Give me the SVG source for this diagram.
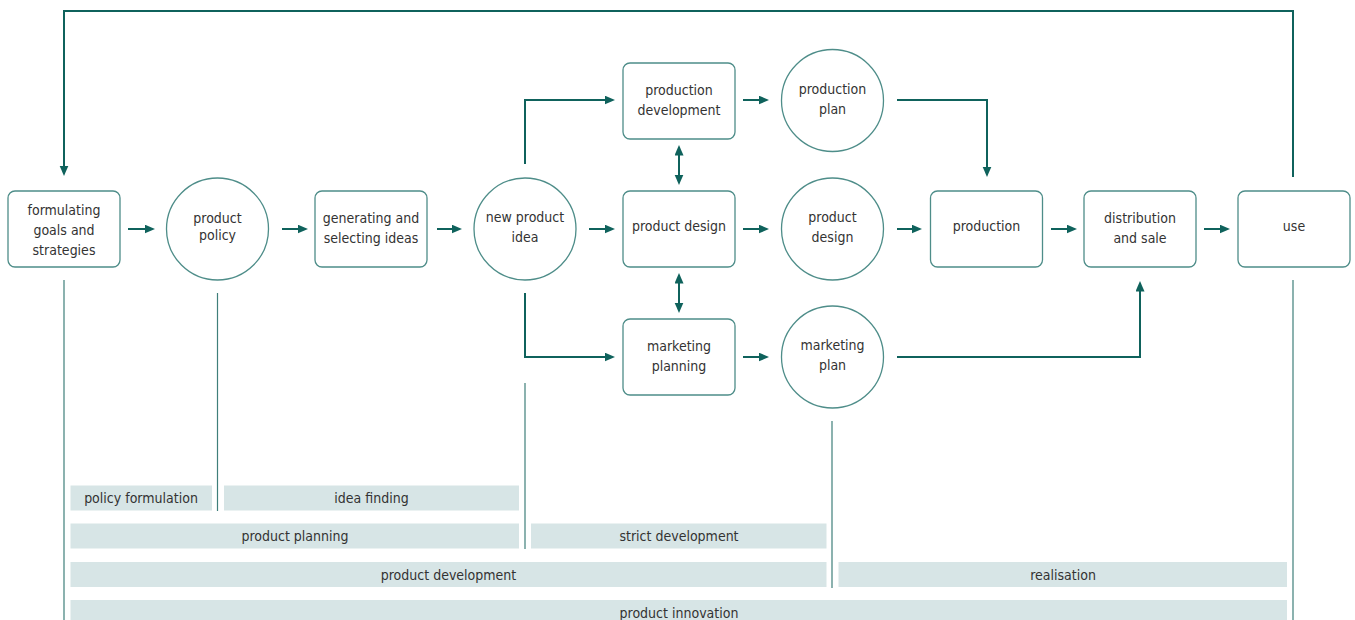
<svg xmlns="http://www.w3.org/2000/svg" width="1355" height="620" viewBox="0 0 1355 620">
<defs>
<style>
.box{fill:#fff;stroke:#4e8d89;stroke-width:1.3}
.t{font-family:"DejaVu Sans Condensed","DejaVu Sans",sans-serif;font-stretch:condensed;font-size:14px;fill:#333;text-anchor:middle}
.c{fill:none;stroke:#0f625c;stroke-width:2}
.a{marker-end:url(#ah)}
.d{marker-start:url(#ah);marker-end:url(#ah)}
.v{fill:none;stroke:#3f7f7a;stroke-width:1.2}
.bar{fill:#d7e5e6}
</style>
<marker id="ah" markerUnits="userSpaceOnUse" markerWidth="12" markerHeight="10" refX="0.5" refY="4.5" orient="auto-start-reverse">
<path d="M0,0 L10.5,4.5 L0,9 z" fill="#0f625c"/>
</marker>
</defs>
<rect width="1355" height="620" fill="#fff"/>

<g id="connectors">
<path class="c a" d="M128,229 H145"/>
<path class="c a" d="M282,229 H298"/>
<path class="c a" d="M437,229 H452"/>
<path class="c a" d="M589,229 H605"/>
<path class="c a" d="M743,229 H759"/>
<path class="c a" d="M897,229 H912"/>
<path class="c a" d="M1051,229 H1067"/>
<path class="c a" d="M1204,229 H1220"/>
<path class="c a" d="M743,100 H759"/>
<path class="c a" d="M743,357 H759"/>
<path class="c a" d="M525,164 V100 H605"/>
<path class="c a" d="M525,293 V357 H605"/>
<path class="c a" d="M897,100 H987 V167"/>
<path class="c a" d="M897,357 H1140 V291"/>
<path class="c a" d="M1293,177 V11 H64 V166"/>
<path class="c d" d="M679,155 V175"/>
<path class="c d" d="M679,283 V303"/>
</g>

<g id="phase-lines">
<path class="v" d="M64,280 V620"/>
<path class="v" d="M217.5,293 V511"/>
<path class="v" d="M525,383 V549"/>
<path class="v" d="M832,421 V588"/>
<path class="v" d="M1293,280 V620"/>
</g>

<g id="n-formulating">
<rect class="box" x="8" y="191" width="112" height="76" rx="7"/>
<text class="t" x="64" y="215">formulating</text>
<text class="t" x="64" y="235">goals and</text>
<text class="t" x="64" y="255">strategies</text>
</g>
<g id="n-policy">
<circle class="box" cx="217.5" cy="229" r="51"/>
<text class="t" x="217.5" y="223">product</text>
<text class="t" x="217.5" y="240">policy</text>
</g>
<g id="n-generating">
<rect class="box" x="315" y="191" width="112" height="76" rx="7"/>
<text class="t" x="371" y="223">generating and</text>
<text class="t" x="371" y="243">selecting ideas</text>
</g>
<g id="n-idea">
<circle class="box" cx="525" cy="229" r="51"/>
<text class="t" x="525" y="222">new product</text>
<text class="t" x="525" y="242">idea</text>
</g>
<g id="n-proddev">
<rect class="box" x="623" y="63" width="112" height="76" rx="7"/>
<text class="t" x="679" y="95">production</text>
<text class="t" x="679" y="115">development</text>
</g>
<g id="n-design">
<rect class="box" x="623" y="191" width="112" height="76" rx="7"/>
<text class="t" x="679" y="231">product design</text>
</g>
<g id="n-marketing">
<rect class="box" x="623" y="319" width="112" height="76" rx="7"/>
<text class="t" x="679" y="351">marketing</text>
<text class="t" x="679" y="371">planning</text>
</g>
<g id="n-prodplan">
<circle class="box" cx="832.5" cy="100.5" r="51"/>
<text class="t" x="832.5" y="94">production</text>
<text class="t" x="832.5" y="114">plan</text>
</g>
<g id="n-designc">
<circle class="box" cx="832.5" cy="229" r="51"/>
<text class="t" x="832.5" y="222">product</text>
<text class="t" x="832.5" y="242">design</text>
</g>
<g id="n-mplan">
<circle class="box" cx="832.5" cy="357" r="51"/>
<text class="t" x="832.5" y="350">marketing</text>
<text class="t" x="832.5" y="370">plan</text>
</g>
<g id="n-production">
<rect class="box" x="930.5" y="191" width="112" height="76" rx="7"/>
<text class="t" x="986.5" y="231">production</text>
</g>
<g id="n-distribution">
<rect class="box" x="1084" y="191" width="112" height="76" rx="7"/>
<text class="t" x="1140" y="223">distribution</text>
<text class="t" x="1140" y="243">and sale</text>
</g>
<g id="n-use">
<rect class="box" x="1238" y="191" width="112" height="76" rx="7"/>
<text class="t" x="1294" y="231">use</text>
</g>

<g id="phases">
<rect class="bar" x="70.5" y="485.5" width="141.5" height="25"/>
<text class="t" x="141" y="503">policy formulation</text>
<rect class="bar" x="224" y="485.5" width="295" height="25"/>
<text class="t" x="371.5" y="503">idea finding</text>
<rect class="bar" x="70.5" y="523.5" width="448.5" height="25"/>
<text class="t" x="295" y="541">product planning</text>
<rect class="bar" x="531" y="523.5" width="295.5" height="25"/>
<text class="t" x="679" y="541">strict development</text>
<rect class="bar" x="70.5" y="562" width="756" height="25"/>
<text class="t" x="448.5" y="579.5">product development</text>
<rect class="bar" x="838.5" y="562" width="448.5" height="25"/>
<text class="t" x="1063" y="579.5">realisation</text>
<rect class="bar" x="70.5" y="600" width="1216.5" height="25"/>
<text class="t" x="679" y="617.5">product innovation</text>
</g>
</svg>
